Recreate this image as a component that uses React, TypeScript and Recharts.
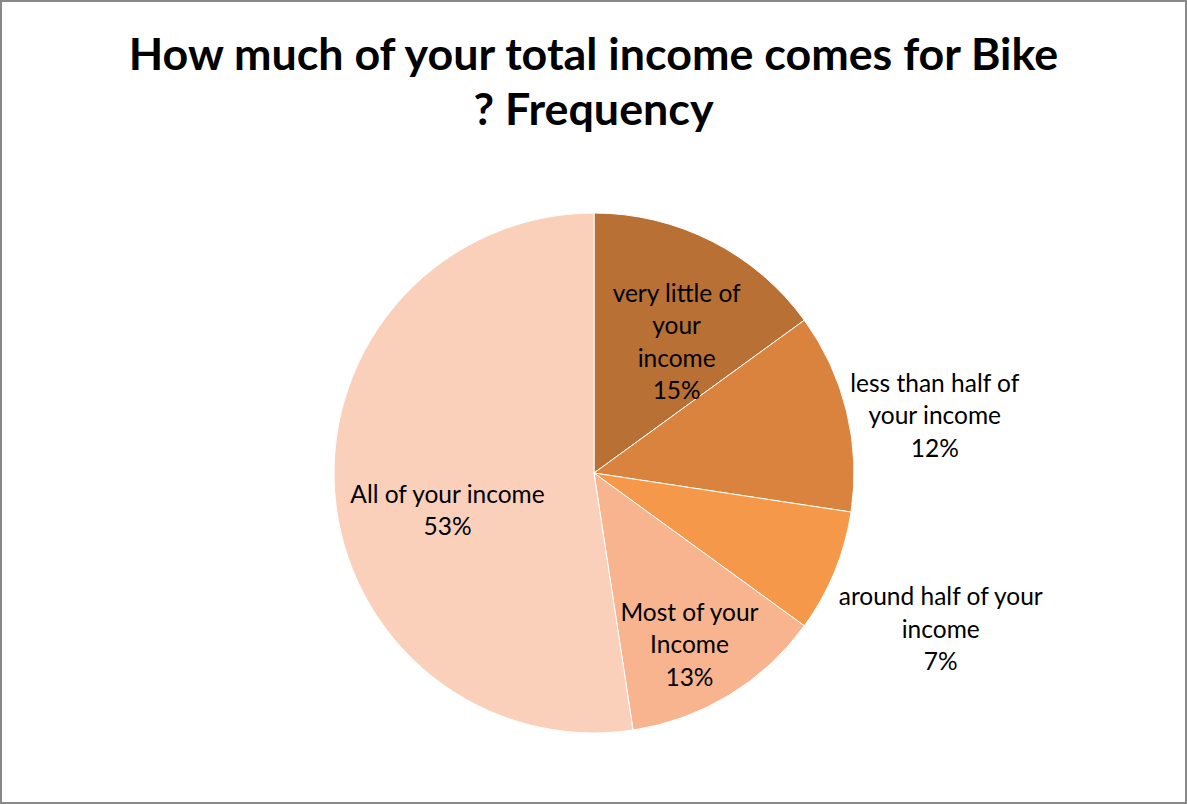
import { PieChart, Pie, Cell } from "recharts";

const categories = [
  "very little of your income",
  "less than half of your income",
  "around half of your income",
  "Most of your Income",
  "All of your income",
];
// slice sizes as drawn (share of the pie, %)
const frequency = [15, 12.4, 7.6, 12.6, 52.4];
// percentages as printed on the chart's data labels
const percentLabels = ["15%", "12%", "7%", "13%", "53%"];
const sliceColors = ["#B87035", "#DA833E", "#F69849", "#F8B48E", "#FAD0BA"];
const labelLines = [
  ["very little of", "your", "income"],
  ["less than half of", "your income"],
  ["around half of your", "income"],
  ["Most of your", "Income"],
  ["All of your income"],
];

const data = categories.map((name, i) => ({ name, value: frequency[i] }));

// label placement relative to each slice's mid angle (radius factor, angle nudge)
const labelRadius = [0.6, 1.33, 1.46, 0.75, 0.58];
const labelNudge = [-5, -3.9, -1.7, -2, 9.4];

const RAD = Math.PI / 180;
const FONT = "Lato, 'Open Sans', sans-serif";
const LINE_H = 32.5;

function renderLabel(props: any) {
  const { cx, cy, midAngle, outerRadius, index } = props;
  const a = (midAngle + labelNudge[index]) * RAD;
  const r = outerRadius * labelRadius[index];
  const x = cx + r * Math.cos(a);
  const y = cy - r * Math.sin(a);
  const lines = [...labelLines[index], percentLabels[index]];
  const top = y - ((lines.length - 1) * LINE_H) / 2;
  return (
    <text
      key={`lbl-${index}`}
      x={x}
      y={top}
      textAnchor="middle"
      dominantBaseline="central"
      fill="#000"
      fontFamily={FONT}
      fontSize={24.5}
    >
      {lines.map((ln, j) => (
        <tspan key={j} x={x} y={top + j * LINE_H}>
          {ln}
        </tspan>
      ))}
    </text>
  );
}

export default function App() {
  return (
    <div
      style={{
        position: "absolute",
        left: 0,
        top: 0,
        width: 1187,
        height: 804,
        boxSizing: "border-box",
        border: "2px solid #898989",
        background: "#fff",
      }}
    >
      <div
        style={{
          position: "absolute",
          left: 0,
          top: 24,
          width: 1183,
          textAlign: "center",
          fontFamily: FONT,
          fontWeight: 700,
          fontSize: 44.8,
          lineHeight: "55px",
          color: "#000",
        }}
      >
        How much of your total income comes for Bike
        <br />? Frequency
      </div>
      <div style={{ position: "absolute", left: -2, top: -2 }}>
        <PieChart width={1187} height={804} margin={{ top: 0, right: 0, bottom: 0, left: 0 }}>
          <Pie
            data={data}
            dataKey="value"
            nameKey="name"
            cx={594}
            cy={473}
            outerRadius={260}
            startAngle={90}
            endAngle={-270}
            stroke="#fff"
            strokeWidth={1}
            label={renderLabel}
            labelLine={false}
            isAnimationActive={false}
          >
            {data.map((d, i) => (
              <Cell key={d.name} fill={sliceColors[i]} />
            ))}
          </Pie>
        </PieChart>
      </div>
    </div>
  );
}
